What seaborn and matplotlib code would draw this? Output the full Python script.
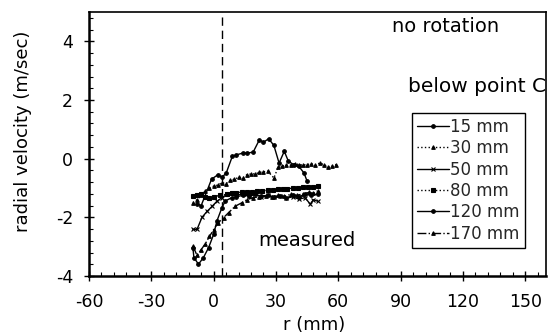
import matplotlib
matplotlib.use("Agg")
import matplotlib.pyplot as plt
import seaborn as sns
import pandas as pd
from matplotlib.ticker import MultipleLocator

sns.set_theme(style="white")
plt.rcParams['font.family'] = ['DejaVu Sans']
plt.rcParams['axes.unicode_minus'] = False

# ---- data ----
labels = ["15 mm", "30 mm", "50 mm", "80 mm", "120 mm", "170 mm"]

r15 = [-8, -6, -1, 2, 4, 6, 9, 11, 14, 16, 19, 22, 24, 26.5, 29, 31.5, 34, 36, 38.5, 41, 43.5, 45]
v15 = [-1.55, -1.6, -0.7, -0.55, -0.63, -0.5, 0.08, 0.13, 0.19, 0.19, 0.22, 0.64, 0.56, 0.68, 0.45,
       -0.15, 0.25, -0.09, -0.2, -0.26, -0.49, -0.77]

r30 = [-10, -8, -6, -4, -2, 0, 2, 4, 6, 8, 10, 12, 14, 16, 18, 20, 22, 24, 26, 29, 31, 33, 35,
       37, 39, 41, 43, 45, 47, 49, 51, 53, 55, 57, 59]
v30 = [-1.5, -1.4, -1.25, -1.1, -1.0, -0.94, -0.9, -0.82, -0.85, -0.74, -0.7, -0.64, -0.66, -0.55,
       -0.52, -0.52, -0.47, -0.45, -0.42, -0.66, -0.3, -0.25, -0.22, -0.22, -0.17, -0.2, -0.22,
       -0.2, -0.17, -0.22, -0.15, -0.2, -0.28, -0.25, -0.2]

r50 = [-10, -8, -5.6, -3.2, -0.8, 1.6, 4, 6.4, 8.8, 11, 14, 17, 20, 23, 26, 29, 32, 35, 38, 41,
       44, 46.5, 48, 50]
v50 = [-2.41, -2.41, -2.0, -1.8, -1.63, -1.45, -1.33, -1.22, -1.18, -1.25, -1.2, -1.28, -1.22,
       -1.3, -1.25, -1.32, -1.28, -1.35, -1.3, -1.38, -1.33, -1.55, -1.4, -1.45]

r80 = [-10, -8, -6, -4, -2, 0, 3, 6.4, 9, 11, 13.5, 16, 18.5, 21, 23.5, 26, 28.5, 31, 33.5, 35.5,
       38, 40.5, 43, 45.5, 48, 50]
v80 = [-1.28, -1.25, -1.2, -1.3, -1.35, -1.3, -1.25, -1.22, -1.18, -1.16, -1.14, -1.13, -1.12,
       -1.1, -1.09, -1.08, -1.06, -1.05, -1.04, -1.02, -1.01, -1.0, -0.98, -0.97, -0.95, -0.94]

r120 = [-10, -9.5, -7.3, -4.9, -2.4, 0, 1.6, 4, 5.6, 8.8, 11, 14, 17, 20, 23, 26, 29, 32, 35,
        38, 41, 44, 47, 50]
v120 = [-3.03, -3.37, -3.6, -3.37, -3.03, -2.58, -2.12, -1.67, -1.44, -1.33, -1.3, -1.25, -1.27,
        -1.22, -1.28, -1.25, -1.3, -1.27, -1.35, -1.25, -1.3, -1.22, -1.25, -1.2]

r170 = [-10, -8, -6, -4, -2, 0, 2, 4.8, 7.2, 10.4, 13.7, 16, 19, 22, 25, 28, 31, 34, 37, 40, 43,
        46, 48, 50]
v170 = [-2.97, -3.3, -3.1, -2.9, -2.65, -2.42, -2.2, -2.01, -1.84, -1.62, -1.5, -1.4, -1.33,
        -1.3, -1.28, -1.3, -1.25, -1.28, -1.22, -1.25, -1.2, -1.15, -1.18, -1.1]

series_r = [r15, r30, r50, r80, r120, r170]
series_v = [v15, v30, v50, v80, v120, v170]
styles = [("-", "o"), (":", "^"), ("-", "x"), (":", "s"), ("-", "o"), ("-.", "^")]

xticks = [-60, -30, 0, 30, 60, 90, 120, 150]
yticks = [-4, -2, 0, 2, 4]

# ---- figure ----
fig = plt.figure(figsize=(5.48, 3.36), dpi=100)
ax = fig.add_axes([0.1624, 0.1786, 0.8340, 0.7857])

for lab, rr, vv, (ls, mk) in zip(labels, series_r, series_v, styles):
    df = pd.DataFrame({"r": rr, "v": vv})
    sns.lineplot(data=df, x="r", y="v", ax=ax, color="black", linestyle=ls, linewidth=1.0,
                 marker=mk, markersize=2.6, markeredgewidth=0.8, markeredgecolor="black",
                 markerfacecolor="black", estimator=None, sort=False, label=lab)

ax.axvline(4, color="black", linestyle=(0, (6, 3.5)), linewidth=1.0)

ax.set_xlim(-60, 160)
ax.set_ylim(-4, 5)
ax.set_xticks(xticks)
ax.set_yticks(yticks)
ax.xaxis.set_minor_locator(MultipleLocator(6))
ax.yaxis.set_minor_locator(MultipleLocator(0.4))
ax.tick_params(which="major", direction="inout", length=7, width=1.0, colors="black",
               labelsize=12.5)
ax.tick_params(axis="x", which="major", pad=9)
ax.tick_params(axis="y", which="major", pad=8)
ax.tick_params(which="minor", direction="in", length=3, width=0.8, colors="black")
ax.tick_params(axis="x", which="both", bottom=True, top=False)
ax.tick_params(axis="y", which="both", left=True, right=False)

for side in ["left", "bottom"]:
    ax.spines[side].set_linewidth(1.8)
    ax.spines[side].set_color("black")
for side in ["top", "right"]:
    ax.spines[side].set_linewidth(1.2)
    ax.spines[side].set_color("black")

ax.set_xlabel("r (mm)", fontsize=13, color="black")
ax.set_ylabel("radial velocity (m/sec)", fontsize=13, color="black")
ax.xaxis.set_label_coords(0.493, -0.150)
ax.yaxis.set_label_coords(-0.125, 0.547)

ax.text(86, 4.5, "no rotation", fontsize=14, va="center", ha="left", color="black")
ax.text(93.5, 2.45, "below point C", fontsize=14.5, va="center", ha="left", color="black",
        clip_on=True)
ax.text(21.6, -2.8, "measured", fontsize=14, va="center", ha="left", color="black")

leg = ax.legend(loc="upper left", bbox_to_anchor=((412 - 89) / 457, (276 - 113) / 264),
                fontsize=12, frameon=True, fancybox=False, edgecolor="black", framealpha=1,
                handlelength=1.9, handletextpad=0.1, labelspacing=0.2, borderpad=0.3,
                borderaxespad=0)
leg.get_frame().set_linewidth(1.0)

fig.savefig("out.png", dpi=100)
